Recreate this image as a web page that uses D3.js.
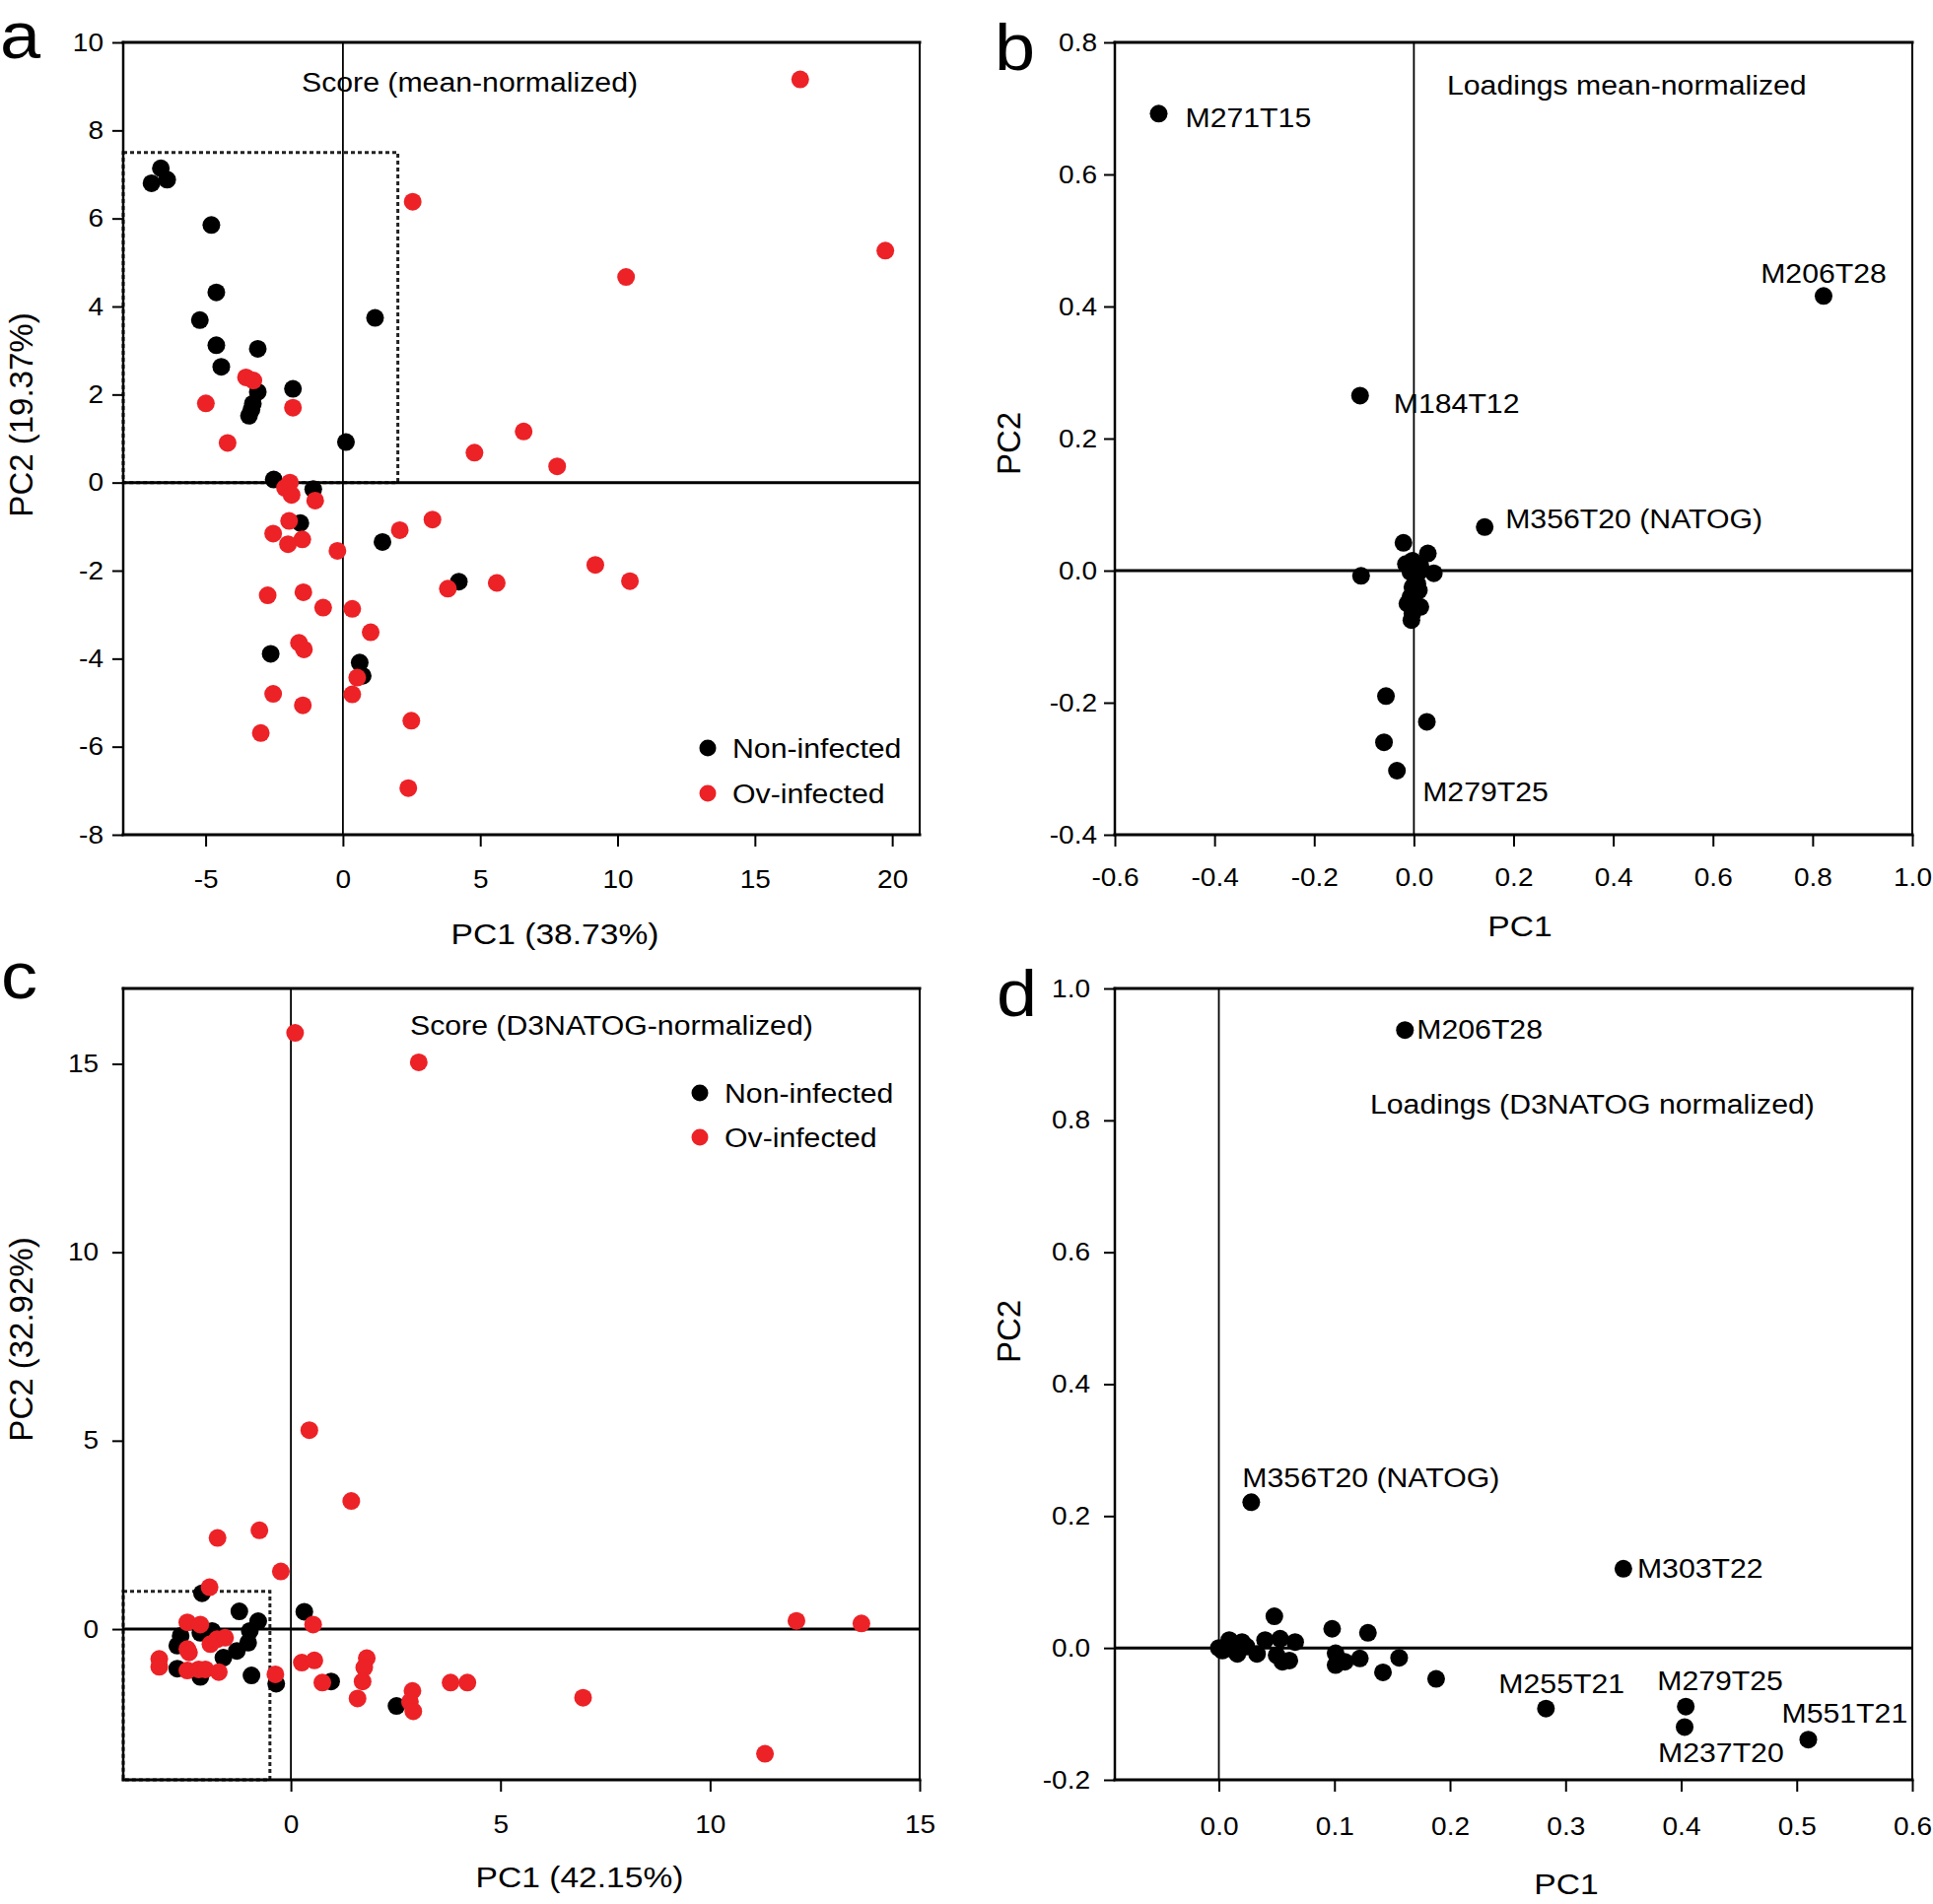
<!DOCTYPE html>
<html>
<head>
<meta charset="utf-8">
<script src="https://cdn.jsdelivr.net/npm/d3@7"></script>
<style>
  body { margin: 0; background: #fff; }
  svg { display: block; font-family: "Liberation Sans", Arial, sans-serif; }
</style>
</head>
<body>
<svg id="fig" width="1961" height="1932"></svg>
<script>
// ---- panel a: score plot (mean-normalized), [PC1, PC2]
const aNonInfected = [
  [-6.97, 6.80], [-6.63, 7.14], [-6.40, 6.88], [-4.79, 5.85], [-4.61, 4.32], [-5.21, 3.69],
  [-4.61, 3.12], [-3.10, 3.04], [-4.43, 2.63], [-3.10, 2.06], [-3.28, 1.79], [-3.33, 1.66],
  [-3.42, 1.52], [-1.82, 2.13], [1.17, 3.74], [0.11, 0.92], [-2.52, 0.07], [-1.08, -0.15],
  [-1.55, -0.92], [1.44, -1.35], [4.22, -2.25], [-2.63, -3.89], [0.61, -4.09], [0.72, -4.39]
];
const aOvInfected = [
  [16.65, 9.16], [19.75, 5.27], [10.31, 4.67], [2.54, 6.38], [-3.53, 2.39], [-3.26, 2.32],
  [-4.99, 1.80], [-1.82, 1.70], [-4.20, 0.90], [4.79, 0.68], [6.58, 1.16], [7.80, 0.37],
  [-1.93, 0.00], [-2.11, -0.12], [-1.87, -0.28], [-1.01, -0.41], [-1.96, -0.87], [-2.54, -1.16],
  [-1.48, -1.29], [-2.00, -1.40], [-0.20, -1.55], [2.07, -1.08], [3.26, -0.84], [9.19, -1.87],
  [10.45, -2.24], [5.60, -2.28], [3.82, -2.41], [-2.74, -2.56], [-1.44, -2.49], [-0.72, -2.84],
  [0.34, -2.87], [1.01, -3.40], [-1.60, -3.64], [-1.42, -3.79], [0.52, -4.43], [0.34, -4.81],
  [-2.54, -4.80], [-1.46, -5.06], [2.49, -5.41], [-2.99, -5.69], [2.38, -6.94]
];
const aXTicks = [-5, 0, 5, 10, 15, 20];
const aYTicks = [-8, -6, -4, -2, 0, 2, 4, 6, 8, 10];

// ---- panel b: loadings (mean-normalized)
const bLoadings = [
  [-0.106, -0.008], [-0.021, 0.042], [0.028, 0.026], [0.040, -0.004], [-0.016, 0.010],
  [-0.003, 0.015], [0.013, 0.007], [-0.007, -0.002], [0.003, -0.010], [0.010, -0.002],
  [-0.003, -0.025], [0.010, -0.030], [-0.007, -0.040], [-0.013, -0.050], [0.013, -0.055],
  [-0.003, -0.065], [-0.005, -0.075], [0.007, -0.020], [-0.056, -0.190], [0.026, -0.229],
  [-0.060, -0.260]
];
const bNamed = [
  { name: "M271T15", pc1: -0.512, pc2: 0.692 },
  { name: "M206T28", pc1: 0.822, pc2: 0.416 },
  { name: "M184T12", pc1: -0.108, pc2: 0.265 },
  { name: "M356T20 (NATOG)", pc1: 0.142, pc2: 0.066 },
  { name: "M279T25", pc1: -0.034, pc2: -0.303 }
];
const bXTicks = [-0.6, -0.4, -0.2, 0, 0.2, 0.4, 0.6, 0.8, 1.0];
const bYTicks = [-0.4, -0.2, 0, 0.2, 0.4, 0.6, 0.8];

// ---- panel c: score plot (D3NATOG-normalized)
const cNonInfected = [
  [0.32, 0.46], [0.96, -1.39], [-0.35, -1.45], [2.52, -2.04], [-2.12, 0.95], [-1.23, 0.47],
  [-0.78, 0.21], [-0.98, -0.05], [-1.02, -0.36], [-1.29, -0.58], [-1.61, -0.76], [-2.63, -0.18],
  [-2.71, -0.44], [-1.88, -0.05], [-2.16, -0.10], [-2.71, -1.05], [-2.16, -1.27], [-0.94, -1.23]
];
const cOvInfected = [
  [0.10, 15.82], [3.05, 15.04], [0.44, 5.28], [1.44, 3.40], [-0.75, 2.62], [-1.75, 2.42],
  [-0.24, 1.53], [-1.94, 1.11], [12.06, 0.22], [13.61, 0.15], [0.53, 0.12], [0.26, -0.89],
  [0.56, -0.83], [1.81, -0.77], [1.75, -1.02], [1.71, -1.39], [1.59, -1.84], [0.75, -1.42],
  [-0.37, -1.20], [3.81, -1.42], [4.21, -1.42], [2.90, -1.64], [2.84, -1.93], [2.92, -2.18],
  [6.97, -1.82], [11.31, -3.31], [-2.47, 0.18], [-2.16, 0.12], [-3.14, -0.79], [-3.14, -1.00],
  [-2.47, -0.53], [-2.43, -0.62], [-1.92, -0.40], [-1.76, -0.27], [-1.57, -0.23], [-2.47, -1.10],
  [-2.20, -1.07], [-2.04, -1.07], [-1.72, -1.14]
];
const cXTicks = [0, 5, 10, 15];
const cYTicks = [0, 5, 10, 15];

// ---- panel d: loadings (D3NATOG normalized)
const dLoadings = [
  [0.000, 0.000], [0.003, -0.004], [0.009, 0.012], [0.010, -0.001], [0.016, -0.009],
  [0.020, 0.009], [0.024, 0.002], [0.033, -0.009], [0.040, 0.012], [0.048, 0.048],
  [0.053, 0.014], [0.050, -0.011], [0.055, -0.021], [0.061, -0.019], [0.066, 0.009],
  [0.098, 0.029], [0.101, -0.008], [0.101, -0.026], [0.109, -0.021], [0.122, -0.016],
  [0.129, 0.023], [0.142, -0.037], [0.156, -0.015], [0.188, -0.047]
];
const dNamed = [
  { name: "M206T28", pc1: 0.161, pc2: 0.937 },
  { name: "M356T20 (NATOG)", pc1: 0.028, pc2: 0.221 },
  { name: "M303T22", pc1: 0.350, pc2: 0.120 },
  { name: "M255T21", pc1: 0.283, pc2: -0.092 },
  { name: "M279T25", pc1: 0.404, pc2: -0.089 },
  { name: "M237T20", pc1: 0.403, pc2: -0.120 },
  { name: "M551T21", pc1: 0.510, pc2: -0.139 }
];
const dXTicks = [0, 0.1, 0.2, 0.3, 0.4, 0.5, 0.6];
const dYTicks = [-0.2, 0, 0.2, 0.4, 0.6, 0.8, 1.0];

const groups = ["Non-infected", "Ov-infected"];
const RED = "#ec2227";
const STRETCH = 1.12; // glyphs in the original are a bit wider than Arial

const svg = d3.select("#fig");

function addText(g, x, y, str, size, anchor) {
  return g.append("text")
    .attr("transform", `translate(${x},${y}) scale(${STRETCH},1)`)
    .attr("text-anchor", anchor || "start")
    .attr("font-size", size)
    .attr("fill", "#000")
    .text(str);
}

function addRotated(g, x, y, str, size) {
  return g.append("text")
    .attr("transform", `translate(${x},${y}) rotate(-90)`)
    .attr("text-anchor", "middle")
    .attr("font-size", size)
    .text(str);
}

function drawPanel(p) {
  const x = d3.scaleLinear().domain(p.xDomain).range([p.left, p.right]);
  const y = d3.scaleLinear().domain(p.yDomain).range([p.bottom, p.top]);
  const g = svg.append("g");

  // dotted zoom-in box
  if (p.box) {
    g.append("rect")
      .attr("x", x(p.box[0])).attr("y", y(p.box[3]))
      .attr("width", x(p.box[1]) - x(p.box[0]))
      .attr("height", y(p.box[2]) - y(p.box[3]))
      .attr("fill", "none").attr("stroke", "#222")
      .attr("stroke-width", 3).attr("stroke-dasharray", "4,3");
  }

  // zero lines
  g.append("line").attr("x1", p.left).attr("x2", p.right)
    .attr("y1", y(0)).attr("y2", y(0)).attr("stroke", "#000").attr("stroke-width", 3);
  g.append("line").attr("x1", x(0)).attr("x2", x(0))
    .attr("y1", p.top).attr("y2", p.bottom).attr("stroke", "#000").attr("stroke-width", 1.8);

  // frame
  const frame = [
    [p.left, p.top, p.right, p.top, 3],
    [p.left, p.bottom, p.right, p.bottom, 3],
    [p.left, p.top, p.left, p.bottom, 2.5],
    [p.right, p.top, p.right, p.bottom, 2]
  ];
  frame.forEach(f => {
    g.append("line").attr("x1", f[0]).attr("y1", f[1]).attr("x2", f[2]).attr("y2", f[3])
      .attr("stroke", "#000").attr("stroke-width", f[4]).attr("stroke-linecap", "square");
  });

  // axes
  const yAxis = g.append("g")
    .attr("transform", `translate(${p.left},0)`)
    .call(d3.axisLeft(y).tickValues(p.yTicks).tickFormat(p.fmt)
      .tickSize(11).tickSizeOuter(0).tickPadding(p.yGap / STRETCH - 11));
  const xAxis = g.append("g")
    .attr("transform", `translate(0,${p.bottom})`)
    .call(d3.axisBottom(x).tickValues(p.xTicks).tickFormat(p.fmt)
      .tickSize(12).tickSizeOuter(0).tickPadding(p.xGap - 12));
  [yAxis, xAxis].forEach(ax => {
    ax.attr("font-family", null).attr("font-size", 25);
    ax.select(".domain").remove();
    ax.selectAll(".tick line").attr("stroke-width", 2);
    ax.selectAll(".tick text").attr("transform", `scale(${STRETCH},1)`);
  });

  // points (black first, red on top)
  p.series.forEach(s => {
    g.append("g").selectAll("circle")
      .data(s.data)
      .join("circle")
      .attr("cx", d => x(d[0]))
      .attr("cy", d => y(d[1]))
      .attr("r", 9)
      .attr("fill", s.color);
  });

  // named loadings
  if (p.named) {
    g.append("g").selectAll("circle")
      .data(p.named)
      .join("circle")
      .attr("cx", d => x(d.pc1))
      .attr("cy", d => y(d.pc2))
      .attr("r", 9)
      .attr("fill", "#000");
    p.named.forEach(d => {
      const o = p.labelPos[d.name];
      addText(g, x(d.pc1) + o[0], y(d.pc2) + o[1], d.name, 27, o[2]);
    });
  }

  // legend
  if (p.legend) {
    groups.forEach((name, i) => {
      const ly = p.legend[1] + i * p.legend[2];
      g.append("circle").attr("cx", p.legend[0]).attr("cy", ly).attr("r", 8.5)
        .attr("fill", i === 0 ? "#000" : RED);
      addText(g, p.legend[0] + 25, ly + 10, name, 27);
    });
  }

  // texts
  addText(g, p.note[0], p.note[1], p.note[2], 27);
  addText(g, p.xTitle[0], p.xTitle[1], p.xTitle[2], 30, "middle");
  addRotated(g, p.yTitle[0], p.yTitle[1], p.yTitle[2], 33);
  addText(svg, p.letter[0], p.letter[1], p.letter[2], 66);
}

const intFmt = d => String(d);
const decFmt = d => d.toFixed(1);

drawPanel({
  left: 125, right: 933, top: 43, bottom: 847,
  xDomain: [-8, 21], yDomain: [-8, 10],
  xTicks: aXTicks, yTicks: aYTicks, fmt: intFmt, yGap: 20, xGap: 36,
  box: [-8, 2, 0, 7.5],
  series: [{ data: aNonInfected, color: "#000" }, { data: aOvInfected, color: RED }],
  legend: [718, 759, 46],
  note: [306, 93, "Score (mean-normalized)"],
  xTitle: [563, 958, "PC1 (38.73%)"],
  yTitle: [33, 421, "PC2 (19.37%)"],
  letter: [0, 59, "a"]
});

drawPanel({
  left: 1131, right: 1940, top: 43, bottom: 847,
  xDomain: [-0.6, 1.0], yDomain: [-0.4, 0.8],
  xTicks: bXTicks, yTicks: bYTicks, fmt: decFmt, yGap: 18, xGap: 34,
  series: [{ data: bLoadings, color: "#000" }],
  named: bNamed,
  labelPos: {
    "M271T15": [27, 14, "start"],
    "M206T28": [0, -13, "middle"],
    "M184T12": [34, 18, "start"],
    "M356T20 (NATOG)": [21, 1, "start"],
    "M279T25": [26, 31, "start"]
  },
  note: [1468, 96, "Loadings mean-normalized"],
  xTitle: [1542, 950, "PC1"],
  yTitle: [1035, 450, "PC2"],
  letter: [1009, 71, "b"]
});

drawPanel({
  left: 125, right: 933, top: 1003, bottom: 1806,
  xDomain: [-4, 15], yDomain: [-4, 17],
  xTicks: cXTicks, yTicks: cYTicks, fmt: intFmt, yGap: 25, xGap: 36,
  box: [-4, -0.5, -4, 1],
  series: [{ data: cNonInfected, color: "#000" }, { data: cOvInfected, color: RED }],
  legend: [710, 1109, 45],
  note: [416, 1050, "Score (D3NATOG-normalized)"],
  xTitle: [588, 1915, "PC1 (42.15%)"],
  yTitle: [33, 1359, "PC2 (32.92%)"],
  letter: [1, 1013, "c"]
});

drawPanel({
  left: 1131, right: 1940, top: 1003, bottom: 1806,
  xDomain: [-0.09, 0.6], yDomain: [-0.2, 1.0],
  xTicks: dXTicks, yTicks: dYTicks, fmt: decFmt, yGap: 25, xGap: 38,
  series: [{ data: dLoadings, color: "#000" }],
  named: dNamed,
  labelPos: {
    "M206T28": [12, 9, "start"],
    "M356T20 (NATOG)": [-9, -15, "start"],
    "M303T22": [14, 9, "start"],
    "M255T21": [-48, -16, "start"],
    "M279T25": [-29, -17, "start"],
    "M237T20": [-27, 36, "start"],
    "M551T21": [-27, -17, "start"]
  },
  note: [1390, 1130, "Loadings (D3NATOG normalized)"],
  xTitle: [1589, 1922, "PC1"],
  yTitle: [1035, 1351, "PC2"],
  letter: [1011, 1031, "d"]
});
</script>
</body>
</html>
